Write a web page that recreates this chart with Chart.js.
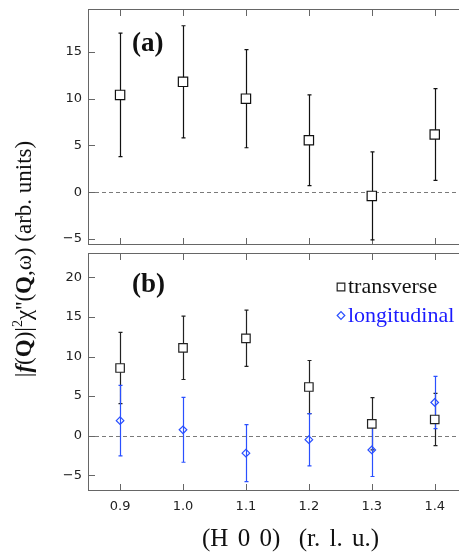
<!DOCTYPE html>
<html>
<head>
<meta charset="utf-8">
<script src="https://cdn.jsdelivr.net/npm/chart.js@4.4.1/dist/chart.umd.min.js"></script>
<style>
  html, body { margin: 0; padding: 0; background: #fff; overflow: hidden; }
  #page { position: relative; width: 459px; height: 552px; overflow: hidden; }
  #boxA { position: absolute; left: 0; top: 0; }
  #boxB { position: absolute; left: 0; top: 250px; }
  #ytitle {
    position: absolute; left: -124px; top: 244px; width: 300px; height: 30px;
    line-height: 30px; text-align: center; white-space: nowrap; color: #111;
    font: 23px "Liberation Serif", serif; transform: rotate(-90deg);
  }
  #ytitle .sup { font-size: 14px; vertical-align: 9px; line-height: 0; }
  #xtitle {
    position: absolute; left: 202px; top: 524px; line-height: 25px; color: #111;
    font: 25px "Liberation Serif", serif; white-space: pre; word-spacing: 3px;
  }
</style>
</head>
<body>
<div id="page">
  <div id="boxA"><canvas id="chartA" width="466" height="250"></canvas></div>
  <div id="boxB"><canvas id="chartB" width="466" height="302"></canvas></div>
  <div id="ytitle">|<b><i>f</i></b>(<b>Q</b>)|<span class="sup">2</span>χ''(<b>Q</b>,ω) (arb. units)</div>
  <div id="xtitle">(H 0 0)  (r. l. u.)</div>
</div>
<script>
// (H 0 0) positions
const hValues = [0.9, 1.0, 1.1, 1.2, 1.3, 1.4];

// panel (a)
const signalA = [10.4, 11.8, 10.0, 5.55, -0.4, 6.17];
const errorA = [6.6, 6.0, 5.25, 4.85, 4.7, 4.9];

// panel (b)
const seriesNames = ['transverse', 'longitudinal'];
const transverse = [8.55, 11.1, 12.3, 6.15, 1.5, 2.05];
const transverseErr = [4.5, 4.0, 3.55, 3.35, 3.3, 3.3];
const longitudinal = [1.9, 0.75, -2.2, -0.5, -1.8, 4.2];
const longitudinalErr = [4.45, 4.1, 3.6, 3.3, 3.35, 3.3];

const yTicksA = [-5, 0, 5, 10, 15];
const yTicksB = [-5, 0, 5, 10, 15, 20];

const BLUE = '#2a50ff';

function points(vals, errs) {
  return hValues.map((h, i) => ({ x: h, y: vals[i], err: errs[i] }));
}

// no extra room for edge labels, the frame is set by hand
function noPadding(s) {
  s.paddingTop = 0;
  s.paddingBottom = 0;
  s.paddingLeft = 0;
  s.paddingRight = 0;
}

// box, inward ticks, zero line, error bars, panel label, legend
const framePlugin = {
  id: 'frame',
  beforeDatasetsDraw(chart) {
    const { ctx, chartArea: a, scales: { x, y } } = chart;
    ctx.save();
    ctx.lineWidth = 1;

    const y0 = Math.round(y.getPixelForValue(0)) + 0.5;
    ctx.strokeStyle = '#7a7a7a';
    ctx.setLineDash([4, 3]);
    ctx.beginPath();
    ctx.moveTo(a.left, y0);
    ctx.lineTo(a.right, y0);
    ctx.stroke();
    ctx.setLineDash([]);

    ctx.strokeStyle = '#666';
    ctx.strokeRect(a.left + 0.5, a.top + 0.5, a.right - a.left - 1, a.bottom - a.top - 1);
    ctx.beginPath();
    x.ticks.forEach(t => {
      const px = Math.round(x.getPixelForValue(t.value)) + 0.5;
      ctx.moveTo(px, a.top); ctx.lineTo(px, a.top + 7);
      ctx.moveTo(px, a.bottom); ctx.lineTo(px, a.bottom - 7);
    });
    y.ticks.forEach(t => {
      const py = Math.round(y.getPixelForValue(t.value)) + 0.5;
      ctx.moveTo(a.left, py); ctx.lineTo(a.left + 7, py);
      ctx.moveTo(a.right, py); ctx.lineTo(a.right - 7, py);
    });
    ctx.stroke();

    chart.data.datasets.forEach(ds => {
      ctx.strokeStyle = ds.borderColor;
      ctx.lineWidth = 1.2;
      ctx.beginPath();
      ds.data.forEach(p => {
        const px = Math.round(x.getPixelForValue(p.x)) + 0.5;
        const hi = y.getPixelForValue(p.y + p.err);
        const lo = y.getPixelForValue(p.y - p.err);
        ctx.moveTo(px, hi); ctx.lineTo(px, lo);
        ctx.moveTo(px - 2, hi); ctx.lineTo(px + 2, hi);
        ctx.moveTo(px - 2, lo); ctx.lineTo(px + 2, lo);
      });
      ctx.stroke();
    });
    ctx.restore();
  },
  afterDraw(chart, args, opts) {
    const { ctx, chartArea: a } = chart;
    ctx.save();
    ctx.fillStyle = '#111';
    ctx.font = 'bold 27px "Liberation Serif", serif';
    ctx.textBaseline = 'alphabetic';
    ctx.fillText(opts.label, 132, opts.labelY);

    if (opts.legend) {
      chart.data.datasets.forEach((ds, i) => {
        const cx = a.left + 253;
        const cy = a.top + 34 + i * 28.5;
        ctx.strokeStyle = ds.borderColor;
        ctx.fillStyle = '#fff';
        ctx.lineWidth = 1.2;
        Chart.helpers.drawPoint(ctx, {
          pointStyle: ds.pointStyle, rotation: 0,
          radius: ds.pointStyle === 'rect' ? 5.4 : 3.8, borderWidth: 1.2
        }, cx, cy);
        ctx.fillStyle = i === 0 ? '#111' : '#1a1aff';
        ctx.font = '22px "Liberation Serif", serif';
        ctx.fillText(ds.label, cx + 7, a.top + 40 + i * 29);
      });
    }
    ctx.restore();
  }
};

const X_MIN = 0.849, X_MAX = 1.4497;

function panelOptions(yMin, yMax, yTicks, showX, xAxisHeight, padTop, frameOpts) {
  return {
    responsive: false,
    animation: false,
    devicePixelRatio: 1,
    layout: { autoPadding: false, padding: { top: padTop, left: 0, right: 0, bottom: 0 } },
    plugins: {
      legend: { display: false },
      tooltip: { enabled: false },
      frame: frameOpts
    },
    scales: {
      x: {
        type: 'linear', min: X_MIN, max: X_MAX,
        afterBuildTicks: s => { s.ticks = hValues.map(v => ({ value: v })); },
        afterFit: s => { s.height = xAxisHeight; noPadding(s); },
        grid: { display: false, drawTicks: false },
        border: { display: false },
        ticks: {
          display: showX, autoSkip: false, maxRotation: 0, padding: 8, color: '#222',
          font: { family: 'DejaVu Sans', size: 13 },
          callback: v => v.toFixed(1)
        }
      },
      y: {
        type: 'linear', min: yMin, max: yMax,
        afterBuildTicks: s => { s.ticks = yTicks.map(v => ({ value: v })); },
        afterFit: s => { s.width = 88; noPadding(s); },
        grid: { display: false, drawTicks: false },
        border: { display: false },
        ticks: {
          autoSkip: false, padding: 6, color: '#222',
          font: { family: 'DejaVu Sans', size: 13 },
          callback: v => (v < 0 ? '\u2212' + Math.abs(v) : String(v))
        }
      }
    }
  };
}

new Chart(document.getElementById('chartA'), {
  type: 'scatter',
  data: {
    datasets: [{
      label: 'signal',
      data: points(signalA, errorA),
      pointStyle: 'rect',
      pointRadius: 6.6,
      borderColor: '#111',
      backgroundColor: '#fff',
      borderWidth: 1.2
    }]
  },
  options: panelOptions(-5.65, 19.59, yTicksA, false, 5, 9, { label: '(a)', labelY: 51, legend: false }),
  plugins: [framePlugin]
});

new Chart(document.getElementById('chartB'), {
  type: 'scatter',
  data: {
    datasets: [{
      label: seriesNames[0],
      data: points(transverse, transverseErr),
      pointStyle: 'rect',
      pointRadius: 6,
      borderColor: '#222',
      backgroundColor: '#fff',
      borderWidth: 1.2
    }, {
      label: seriesNames[1],
      data: points(longitudinal, longitudinalErr),
      pointStyle: 'rectRot',
      pointRadius: 3.8,
      borderColor: BLUE,
      backgroundColor: 'rgba(255,255,255,0)',
      borderWidth: 1.2
    }]
  },
  options: panelOptions(-6.98, 23.07, yTicksB, true, 61, 3, { label: '(b)', labelY: 42, legend: true }),
  plugins: [framePlugin]
});
</script>
</body>
</html>
